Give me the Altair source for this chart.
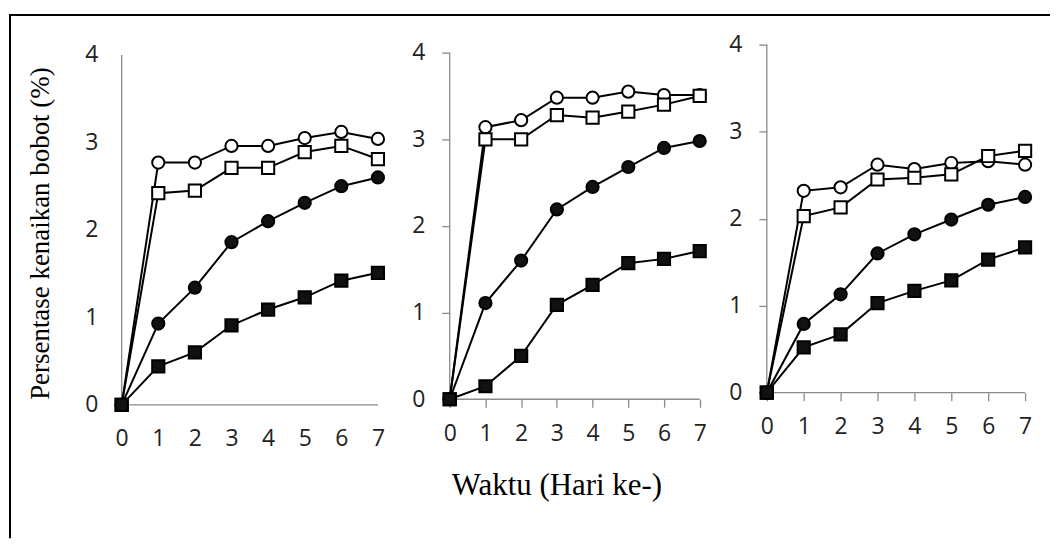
import altair as alt
import pandas as pd

# ---------------- data ----------------
days = [0, 1, 2, 3, 4, 5, 6, 7]
y_ticks = [0, 1, 2, 3, 4]
series_names = ["open_circle", "open_square", "filled_circle", "filled_square"]
series_shapes = ["circle", "square", "circle", "square"]
series_fills = ["white", "white", "#111111", "#111111"]
series_sizes = [150, 150, 150, 200]

p1_open_circle = [0, 2.77, 2.77, 2.96, 2.96, 3.05, 3.12, 3.04]
p1_open_square = [0, 2.42, 2.45, 2.71, 2.71, 2.89, 2.96, 2.81]
p1_filled_circle = [0, 0.93, 1.34, 1.86, 2.10, 2.31, 2.50, 2.60]
p1_filled_square = [0, 0.44, 0.60, 0.91, 1.09, 1.23, 1.42, 1.51]

p2_open_circle = [0, 3.14, 3.22, 3.48, 3.48, 3.55, 3.51, 3.51]
p2_open_square = [0, 3.00, 3.00, 3.28, 3.25, 3.32, 3.40, 3.50]
p2_filled_circle = [0, 1.11, 1.60, 2.19, 2.45, 2.68, 2.90, 2.98]
p2_filled_square = [0, 0.15, 0.50, 1.09, 1.32, 1.57, 1.62, 1.71]

p3_open_circle = [0, 2.32, 2.36, 2.62, 2.57, 2.64, 2.66, 2.62]
p3_open_square = [0, 2.03, 2.13, 2.45, 2.47, 2.51, 2.72, 2.78]
p3_filled_circle = [0, 0.79, 1.13, 1.60, 1.82, 1.99, 2.16, 2.25]
p3_filled_square = [0, 0.52, 0.67, 1.03, 1.17, 1.29, 1.53, 1.67]

y_title = "Persentase kenaikan bobot (%)"
x_title = "Waktu (Hari ke-)"

AXIS_GRAY = "#8a8a8a"
LABEL_SIZE = 23


def make_df(*series):
    rows = []
    for name, vals in zip(series_names, series):
        for d, v in zip(days, vals):
            rows.append({"day": d, "value": v, "series": name})
    return pd.DataFrame(rows)


def panel(df, width, height, xmax, ymax, ticks, ykw=None, xkw=None, frame=False):
    ykw = ykw or {}
    xkw = xkw or {}
    xscale = alt.Scale(domain=[0, xmax], nice=False, zero=False)
    yscale = alt.Scale(domain=[0, ymax], nice=False, zero=False)
    xaxis = alt.Axis(values=days, grid=False, domain=False, ticks=ticks,
                     tickSize=8, tickColor=AXIS_GRAY, tickWidth=1.3,
                     labelFont="Open Sans", labelFontSize=LABEL_SIZE, labelColor="#222222",
                     labelPadding=(15 if ticks else 23), labelFlush=False,
                     labelAngle=0, title=xkw.pop("title", ""), **xkw)
    yaxis = alt.Axis(values=y_ticks, grid=False, domain=False, ticks=ticks,
                     tickSize=8, tickColor=AXIS_GRAY, tickWidth=1.3,
                     labelFont="Open Sans", labelFontSize=LABEL_SIZE, labelColor="#222222",
                     labelPadding=(17 if ticks else 24), labelFlush=False,
                     title=ykw.pop("title", ""), **ykw)
    X = alt.X("day:Q", scale=xscale, axis=xaxis)
    Y = alt.Y("value:Q", scale=yscale, axis=yaxis)

    axes_df = pd.DataFrame({"day": [0, 0], "day2": [days[-1], 0],
                            "value": [0, 0], "value2": [0, y_ticks[-1]]})
    axis_lines = alt.Chart(axes_df).mark_rule(color=AXIS_GRAY, strokeWidth=1.3).encode(
        x=X, x2="day2:Q", y=Y, y2="value2:Q")

    lines = alt.Chart(df).mark_line(color="black", strokeWidth=2).encode(
        x=X, y=Y, detail="series:N")

    pts = alt.Chart(df).mark_point(filled=True, opacity=1, stroke="black", strokeWidth=2).encode(
        x=X, y=Y,
        shape=alt.Shape("series:N", scale=alt.Scale(domain=series_names, range=series_shapes), legend=None),
        fill=alt.Fill("series:N", scale=alt.Scale(domain=series_names, range=series_fills), legend=None),
        size=alt.Size("series:N", scale=alt.Scale(domain=series_names, range=series_sizes), legend=None),
    )
    layers = [axis_lines, lines, pts]
    if frame:
        fdf = pd.DataFrame({"k": [0]})
        top = alt.Chart(fdf).mark_rule(color="black", strokeWidth=2, strokeCap="square").encode(
            x=alt.value(-112), x2=alt.value(930), y=alt.value(-29.7), y2=alt.value(-29.7))
        left = alt.Chart(fdf).mark_rule(color="black", strokeWidth=2, strokeCap="square").encode(
            x=alt.value(-112), x2=alt.value(-112), y=alt.value(-29.7), y2=alt.value(494))
        layers = [top, left] + layers
    return alt.layer(*layers).properties(width=width, height=height)


df1 = make_df(p1_open_circle, p1_open_square, p1_filled_circle, p1_filled_square)
df2 = make_df(p2_open_circle, p2_open_square, p2_filled_circle, p2_filled_square)
df3 = make_df(p3_open_circle, p3_open_square, p3_filled_circle, p3_filled_square)

c1 = panel(df1, 267, 361.3, 7 * 267 / 257, 4 * 361.3 / 351, False,
           ykw=dict(title=y_title, titleFont="Liberation Serif", titleFontSize=27,
                    titleFontWeight="normal", titleColor="black", titleAngle=270,
                    titleAlign="center", titleBaseline="alphabetic", titleX=-73, titleY=189),
           frame=True)
c2 = panel(df2, 255.7, 355.6, 7 * 255.7 / 250.7, 4 * 355.6 / 347.6, True,
           xkw=dict(title=x_title, titleFont="Liberation Serif", titleFontSize=31,
                    titleFontWeight="normal", titleColor="black", titleAlign="center",
                    titleBaseline="alphabetic", titleX=107, titleY=96))
c3 = panel(df3, 259, 349, 7, 4, True)

chart = alt.hconcat(c1, c2, c3, spacing=62, bounds="flush").properties(
    padding={"left": 0, "top": 4, "right": 0, "bottom": 0},
    background="white",
).configure_view(stroke=None)

chart.save("out.html", embed_options={"renderer": "svg", "actions": False})
